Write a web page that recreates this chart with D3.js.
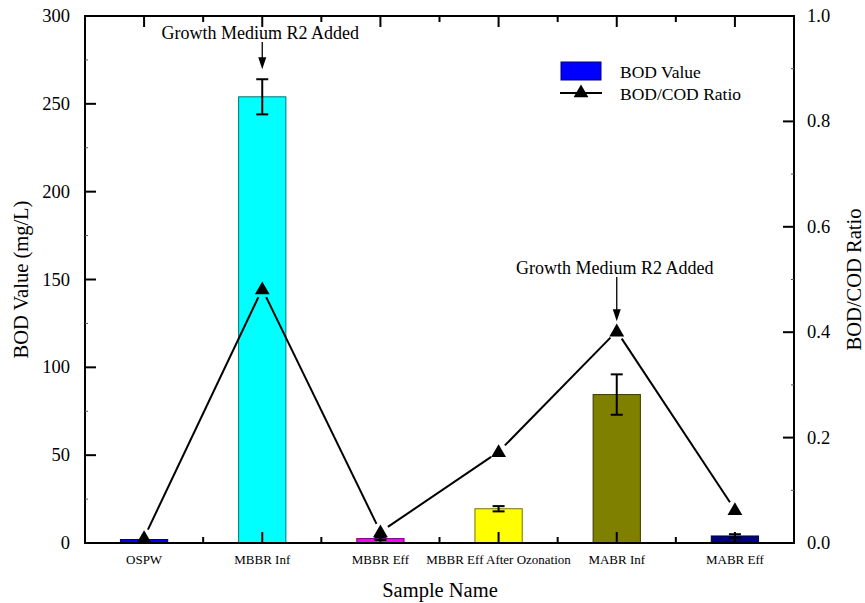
<!DOCTYPE html>
<html><head><meta charset="utf-8">
<script src="https://cdn.jsdelivr.net/npm/d3@7"></script>
<style>body{margin:0;background:#fff}svg{display:block}text{font-family:"Liberation Serif","Times New Roman",serif;fill:#000}</style>
</head><body><svg id="c" width="865" height="603"></svg>
<script>
const categories = ["OSPW","MBBR Inf","MBBR Eff","MBBR Eff After Ozonation","MABR Inf","MABR Eff"];
const bodValues = [2, 254, 2.5, 19.5, 84.5, 4];
const bodErrors = [0, 10, 0.8, 1.5, 11.5, 1];
const ratioValues = [0.01, 0.482, 0.021, 0.173, 0.402, 0.063];
const barColors = ["#0000FF","#00FFFF","#FF00FF","#FFFF00","#808000","#000080"];
const leftTicks = [0,50,100,150,200,250,300];
const rightTicks = [0,0.2,0.4,0.6,0.8,1.0];
const annotations = [{cat:"MBBR Inf", text:"Growth Medium R2 Added"},{cat:"MABR Inf", text:"Growth Medium R2 Added"}];

const W=865,H=603, m={l:85,r:71,t:16,b:60};
const svg=d3.select("#c");
const x=d3.scaleBand().domain(categories).range([m.l,W-m.r]).padding(0);
const yL=d3.scaleLinear().domain([0,300]).range([H-m.b,m.t]);
const yR=d3.scaleLinear().domain([0,1]).range([H-m.b,m.t]);
const cx=c=>x(c)+x.bandwidth()/2;
const bw=x.bandwidth()*0.4;

// bars
svg.append("g").selectAll("rect").data(categories).join("rect")
 .attr("x",c=>cx(c)-bw/2).attr("width",bw)
 .attr("y",(c,i)=>yL(bodValues[i])).attr("height",(c,i)=>yL(0)-yL(bodValues[i]))
 .attr("fill",(c,i)=>barColors[i]).attr("stroke",(c,i)=>d3.color(barColors[i]).darker(2.2)).attr("stroke-width",1);

// error bars
const eg=svg.append("g").attr("stroke","#000").attr("stroke-width",2);
categories.forEach((c,i)=>{
  if(!bodErrors[i]) return;
  const hi=yL(bodValues[i]+bodErrors[i]), lo=yL(bodValues[i]-bodErrors[i]), X=cx(c);
  eg.append("line").attr("x1",X).attr("x2",X).attr("y1",hi).attr("y2",lo);
  eg.append("line").attr("x1",X-6).attr("x2",X+6).attr("y1",hi).attr("y2",hi);
  eg.append("line").attr("x1",X-6).attr("x2",X+6).attr("y1",lo).attr("y2",lo);
});

// ratio line with gaps at markers
const pts=categories.map((c,i)=>[cx(c),yR(ratioValues[i])]);
const lg=svg.append("g").attr("stroke","#000").attr("stroke-width",2);
const gap=9;
for(let i=0;i<pts.length-1;i++){
  const [x1,y1]=pts[i],[x2,y2]=pts[i+1];
  const d=Math.hypot(x2-x1,y2-y1), ux=(x2-x1)/d, uy=(y2-y1)/d;
  lg.append("line").attr("x1",x1+ux*gap).attr("y1",y1+uy*gap).attr("x2",x2-ux*gap).attr("y2",y2-uy*gap);
}
const tri=d3.symbol().type(d3.symbolTriangle).size(95);
svg.append("g").selectAll("path").data(pts).join("path")
 .attr("d",tri).attr("transform",p=>`translate(${p[0]},${p[1]+1})`).attr("fill","#000");

// frame & axes
const fr=svg.append("g").attr("stroke","#000").attr("fill","none");
fr.append("rect").attr("x",m.l).attr("y",m.t).attr("width",W-m.l-m.r).attr("height",H-m.t-m.b).attr("stroke-width",2);
const ax=svg.append("g").attr("stroke","#000").attr("stroke-width",2);
leftTicks.forEach(v=>{ax.append("line").attr("x1",m.l).attr("x2",m.l+11).attr("y1",yL(v)).attr("y2",yL(v));});
d3.range(25,300,50).forEach(v=>{ax.append("line").attr("x1",m.l).attr("x2",m.l+3).attr("y1",yL(v)).attr("y2",yL(v)).attr("stroke-width",1).attr("stroke","#555");});
rightTicks.forEach(v=>{ax.append("line").attr("x1",W-m.r).attr("x2",W-m.r-11).attr("y1",yR(v)).attr("y2",yR(v));});
d3.range(0.1,1,0.2).forEach(v=>{ax.append("line").attr("x1",W-m.r).attr("x2",W-m.r-3).attr("y1",yR(v)).attr("y2",yR(v)).attr("stroke-width",1).attr("stroke","#555");});
categories.forEach(c=>{
  const X=cx(c);
  ax.append("line").attr("x1",X).attr("x2",X).attr("y1",H-m.b).attr("y2",H-m.b-11);
  ax.append("line").attr("x1",X).attr("x2",X).attr("y1",m.t).attr("y2",m.t+11);
});
categories.slice(1).forEach(c=>{
  const X=x(c);
  ax.append("line").attr("x1",X).attr("x2",X).attr("y1",H-m.b).attr("y2",H-m.b-6);
  ax.append("line").attr("x1",X).attr("x2",X).attr("y1",m.t).attr("y2",m.t+6);
});

// tick labels
svg.append("g").selectAll("text").data(leftTicks).join("text")
 .attr("x",m.l-15).attr("y",v=>yL(v)+6).attr("text-anchor","end").attr("font-size",18.5).text(v=>v);
svg.append("g").selectAll("text").data(rightTicks).join("text")
 .attr("x",W-m.r+13).attr("y",v=>yR(v)+6).attr("font-size",18.5).text(v=>v.toFixed(1));
svg.append("g").selectAll("text").data(categories).join("text")
 .attr("x",cx).attr("y",H-m.b+21).attr("text-anchor","middle").attr("font-size",13).text(c=>c);

// titles
svg.append("text").attr("transform",`translate(28,${(m.t+H-m.b)/2}) rotate(-90)`).attr("text-anchor","middle").attr("font-size",20.5).text("BOD Value (mg/L)");
svg.append("text").attr("transform",`translate(861,${(m.t+H-m.b)/2}) rotate(-90)`).attr("text-anchor","middle").attr("font-size",20.5).text("BOD/COD Ratio");
svg.append("text").attr("x",440).attr("y",597).attr("text-anchor","middle").attr("font-size",20.5).text("Sample Name");

// annotations
annotations.forEach(a=>{
  const i=categories.indexOf(a.cat), X=cx(a.cat);
  const isBar = i===1;
  const targetY = isBar ? yL(bodValues[i]+bodErrors[i])-10 : yR(ratioValues[i])-10;
  const textY = isBar ? 39 : 274;
  svg.append("text").attr("x",X-2).attr("y",textY).attr("text-anchor","middle").attr("font-size",18).text(a.text);
  svg.append("line").attr("x1",X).attr("x2",X).attr("y1",textY+3).attr("y2",targetY-10).attr("stroke","#000").attr("stroke-width",1.3);
  svg.append("path").attr("d",`M${X-4},${targetY-12}L${X+4},${targetY-12}L${X},${targetY}Z`).attr("fill","#000");
});

// legend
const lgd=svg.append("g");
lgd.append("rect").attr("x",561).attr("y",62).attr("width",40).attr("height",18).attr("fill","#0000FF").attr("stroke","#00007a");
lgd.append("text").attr("x",620).attr("y",78).attr("font-size",17.5).text("BOD Value");
lgd.append("line").attr("x1",560).attr("x2",602).attr("y1",93).attr("y2",93).attr("stroke","#000").attr("stroke-width",2);
lgd.append("path").attr("d",tri).attr("transform","translate(581,93)").attr("fill","#000");
lgd.append("text").attr("x",620).attr("y",100).attr("font-size",17.5).text("BOD/COD Ratio");
</script></body></html>
